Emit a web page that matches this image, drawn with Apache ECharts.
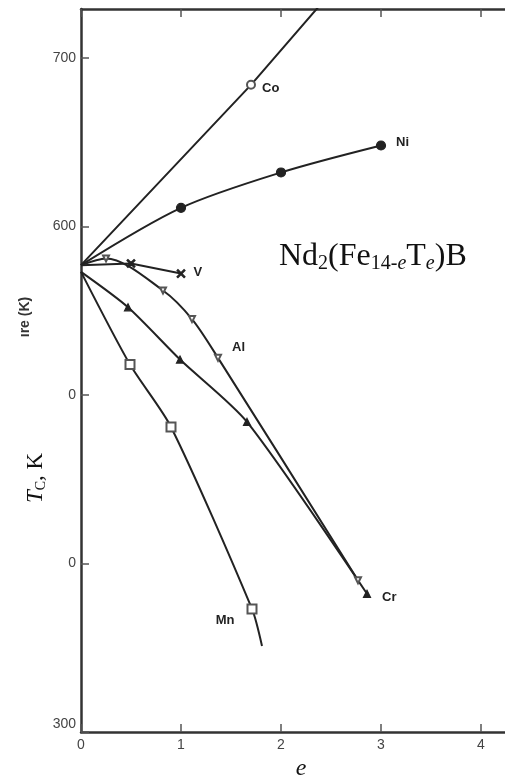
<!DOCTYPE html>
<html>
<head>
<meta charset="utf-8">
<script src="https://cdn.jsdelivr.net/npm/echarts@6/dist/echarts.min.js"></script>
<style>
  html, body { margin: 0; padding: 0; background: #fff; width: 505px; height: 778px; overflow: hidden; }
  #chart { display: block; width: 505px; height: 778px; overflow: hidden; }
</style>
</head>
<body>
<div id="chart"></div>
<script>
// Curie temperature of Nd2(Fe14-e Te)B versus substitution level e
const xTickValues = [0, 1, 2, 3, 4];
const xTickLabels = ['0', '1', '2', '3', '4'];
const yTickValues = [300, 400, 500, 600, 700];
const yTickLabels = ['300', '0', '0', '600', '700'];

const coE = [0, 1.7, 2.4];
const coT = [577, 684, 732];
const niE = [0, 1, 2, 3];
const niT = [577, 611, 632, 648];
const vE = [0, 0.5, 1.0];
const vT = [577, 578, 572];
const alE = [0, 0.25, 0.82, 1.11, 1.37, 2.77];
const alT = [577, 581, 562, 545, 522, 390];
const crE = [0, 0.47, 0.99, 1.66, 2.86];
const crT = [573, 552, 521, 484, 382];
const mnE = [0, 0.49, 0.9, 1.71, 1.81];
const mnT = [573, 518, 481, 373, 351];

const elementNames = ['Co', 'Ni', 'V', 'Al', 'Cr', 'Mn'];

const LINE = '#222';
const crossPath = 'path://M0,1.2L1.2,0L5,3.8L8.8,0L10,1.2L6.2,5L10,8.8L8.8,10L5,6.2L1.2,10L0,8.8L3.8,5Z';
const SERIF = 'Liberation Serif, Times New Roman, serif';

function buildData(xs, ys, marked, labelAt, labelCfg) {
  return xs.map((x, i) => {
    const item = { value: [x, ys[i]] };
    if (!marked.includes(i)) item.symbol = 'none';
    if (i === labelAt) item.label = Object.assign({ show: true }, labelCfg);
    return item;
  });
}

const nameLabel = (name, extra) => Object.assign({
  formatter: name,
  fontFamily: 'Liberation Sans, Arial, sans-serif',
  fontWeight: 'bold',
  fontSize: 13,
  color: '#222'
}, extra);

function lineSeries(name, data, opts) {
  return Object.assign({
    type: 'line',
    name: name,
    data: data,
    showAllSymbol: true,
    clip: true,
    lineStyle: { color: LINE, width: 2 },
    itemStyle: { color: LINE, borderColor: LINE, borderWidth: 1.2 },
    emphasis: { disabled: true },
    z: 3
  }, opts);
}

const chart = echarts.init(document.getElementById('chart'), null, { renderer: 'canvas', width: 505, height: 778 });

const axisFont = { fontFamily: 'Liberation Sans, Arial, sans-serif', fontSize: 14, color: '#444' };
const xTickStyle = { show: true, inside: true, length: 8, customValues: xTickValues, lineStyle: { color: '#555', width: 1.5 } };

chart.setOption({
  animation: false,
  backgroundColor: '#fff',
  grid: { left: 81, right: 0, top: 9, bottom: 46, containLabel: false, outerBoundsMode: 'none' },
  title: {
    text: '{n|Nd}{s|2}{n|(Fe}{s|14-}{si|e}{n|T}{si|e}{n|)B}',
    left: 274,
    top: 234,
    textStyle: {
      fontWeight: 'normal',
      rich: {
        n: { fontFamily: SERIF, fontWeight: 'normal', fontSize: 32, color: '#111', lineHeight: 35 },
        s: { fontFamily: SERIF, fontWeight: 'normal', fontSize: 20, color: '#111', lineHeight: 20, verticalAlign: 'bottom' },
        si: { fontFamily: SERIF, fontWeight: 'normal', fontStyle: 'italic', fontSize: 20, color: '#111', lineHeight: 20, verticalAlign: 'bottom' }
      }
    }
  },
  xAxis: [{
    type: 'value',
    min: 0,
    max: 4.24,
    interval: 1,
    position: 'bottom',
    name: 'e',
    nameLocation: 'middle',
    nameGap: 17,
    nameTextStyle: {
      fontFamily: SERIF,
      fontStyle: 'italic',
      fontSize: 24,
      color: '#111',
      padding: [0, 0, 0, 16]
    },
    axisLine: { show: true, onZero: false, lineStyle: { color: '#333', width: 2.5 } },
    axisTick: xTickStyle,
    axisLabel: Object.assign({ margin: 6, customValues: xTickValues, formatter: v => { const i = xTickValues.indexOf(v); return i < 0 ? '' : xTickLabels[i]; } }, axisFont),
    splitLine: { show: false }
  }, {
    type: 'value',
    min: 0,
    max: 4.24,
    interval: 1,
    position: 'top',
    axisLine: { show: true, onZero: false, lineStyle: { color: '#333', width: 2.5 } },
    axisTick: xTickStyle,
    axisLabel: { show: false },
    splitLine: { show: false }
  }],
  yAxis: {
    type: 'value',
    min: 300,
    max: 729,
    interval: 100,
    axisLine: { show: true, onZero: false, lineStyle: { color: '#333', width: 2.5 } },
    axisTick: { show: true, inside: true, length: 8, customValues: yTickValues, lineStyle: { color: '#555', width: 1.5 } },
    axisLabel: Object.assign({
      margin: 5,
      customValues: yTickValues,
      formatter: v => {
        const i = yTickValues.indexOf(v);
        if (i < 0) return '';
        return i === 0 ? '{lift|' + yTickLabels[i] + '}' : yTickLabels[i];
      },
      rich: { lift: Object.assign({ padding: [0, 0, 16, 0] }, axisFont) }
    }, axisFont),
    splitLine: { show: false }
  },
  graphic: [{
    type: 'text',
    x: 25,
    y: 317,
    rotation: Math.PI / 2,
    style: {
      text: 'ıre (K)',
      fontFamily: 'Liberation Sans, Arial, sans-serif',
      fontWeight: 'bold',
      fontSize: 14,
      fill: '#333',
      align: 'center',
      verticalAlign: 'middle'
    }
  }, {
    type: 'text',
    x: 36,
    y: 478,
    rotation: Math.PI / 2,
    style: {
      text: '{t|T}{c|C}{k|, K}',
      align: 'center',
      verticalAlign: 'middle',
      rich: {
        t: { fontFamily: SERIF, fontStyle: 'italic', fontSize: 23, fill: '#111', lineHeight: 25 },
        c: { fontFamily: SERIF, fontSize: 14, fill: '#111', lineHeight: 14, verticalAlign: 'bottom' },
        k: { fontFamily: SERIF, fontSize: 23, fill: '#111', lineHeight: 25 }
      }
    }
  }],
  series: [
    lineSeries(elementNames[0],
      buildData(coE, coT, [1], 1, nameLabel(elementNames[0], { position: 'right', distance: 6, offset: [0, 4] })),
      { symbol: 'emptyCircle', symbolSize: 8, itemStyle: { color: '#555', borderColor: '#555', borderWidth: 1.2 } }),
    lineSeries(elementNames[1],
      buildData(niE, niT, [1, 2, 3], 3, nameLabel(elementNames[1], { position: 'right', distance: 10, offset: [0, -3] })),
      { symbol: 'circle', symbolSize: 9, smooth: 0.3 }),
    lineSeries(elementNames[2],
      buildData(vE, vT, [1, 2], 2, nameLabel(elementNames[2], { position: 'right', distance: 8, offset: [0, -1] })),
      { symbol: crossPath, symbolSize: 8 }),
    lineSeries(elementNames[3],
      buildData(alE, alT, [1, 2, 3, 4, 5], 4, nameLabel(elementNames[3], { position: 'right', distance: 6, offset: [4, -10] })),
      { symbol: 'emptyTriangle', symbolRotate: 180, symbolSize: 6, smooth: 0.3,
        itemStyle: { color: '#555', borderColor: '#555', borderWidth: 1.2 } }),
    lineSeries(elementNames[4],
      buildData(crE, crT, [1, 2, 3, 4], 4, nameLabel(elementNames[4], { position: 'right', distance: 9, offset: [2, 4] })),
      { symbol: 'triangle', symbolSize: 7, smooth: 0.25 }),
    lineSeries(elementNames[5],
      buildData(mnE, mnT, [1, 2, 3], 3, nameLabel(elementNames[5], { position: 'left', distance: 10, offset: [-2, 11] })),
      { symbol: 'emptyRect', symbolSize: 9, smooth: 0.25,
        itemStyle: { color: '#555', borderColor: '#555', borderWidth: 1.2 } })
  ]
});
</script>
</body>
</html>
